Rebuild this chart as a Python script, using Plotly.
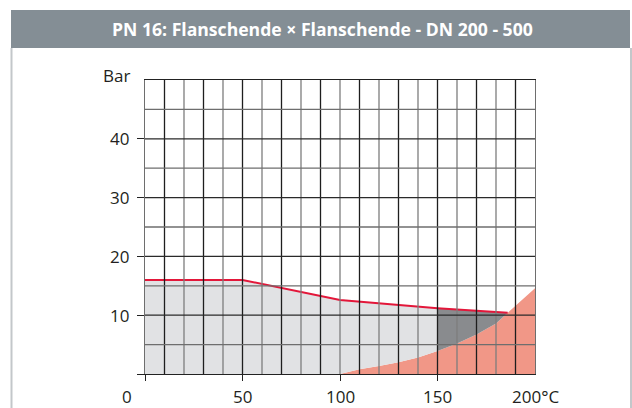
import plotly.graph_objects as go

# ---- data ----
TITLE = "PN 16: Flanschende × Flanschende - DN 200 - 500"
LIMIT_T = [0, 50, 100, 150, 186]           # °C
LIMIT_P = [16, 16, 12.6, 11.2, 10.4]       # bar
CURVE_T = [100, 110, 120, 130, 140, 150, 160, 170, 180, 186, 190, 200]
CURVE_P = [0, 0.8, 1.35, 2.0, 2.8, 3.9, 5.2, 6.7, 8.6, 10.4, 11.5, 14.6]
X_TICKS = [0, 50, 100, 150, 200]
X_TICK_TEXT = ["0", "50", "100", "150", "200°C"]
Y_TICKS = [10, 20, 30, 40]
Y_UNIT = "Bar"

# ---- layout constants (pixels) ----
W, H = 632, 408
L, R, T, B = 145, 535, 80, 374
FONT = "Open Sans"
TXT = "#231f20"


def px(x):
    return (x - L) / (R - L)


def py(y):
    return (B - y) / (B - T)


fig = go.Figure()

# salmon region under curve
fig.add_trace(go.Scatter(x=CURVE_T, y=CURVE_P, mode="lines", line=dict(width=0),
                         fill="tozeroy", fillcolor="#f19787", hoverinfo="skip"))

# light grey region: from 0 to 150 between curve (or 0) and limit line
split = 150
lim_left_x = [t for t in LIMIT_T if t <= split]
lim_left_y = [p for t, p in zip(LIMIT_T, LIMIT_P) if t <= split]
cur_left_x = [t for t in CURVE_T if t <= split][::-1]
cur_left_y = [p for t, p in zip(CURVE_T, CURVE_P) if t <= split][::-1]
fig.add_trace(go.Scatter(x=[0] + lim_left_x + cur_left_x + [0],
                         y=[0] + lim_left_y + cur_left_y + [0],
                         mode="lines", line=dict(width=0), fill="toself",
                         fillcolor="#e1e2e4", hoverinfo="skip"))

# dark grey region: 150..end between curve and limit line
end = LIMIT_T[-1]
lim_r_x = [t for t in LIMIT_T if t >= split]
lim_r_y = [p for t, p in zip(LIMIT_T, LIMIT_P) if t >= split]
cur_r_x = [t for t in CURVE_T if split <= t <= end][::-1]
cur_r_y = [p for t, p in zip(CURVE_T, CURVE_P) if split <= t <= end][::-1]
fig.add_trace(go.Scatter(x=lim_r_x + cur_r_x, y=lim_r_y + cur_r_y,
                         mode="lines", line=dict(width=0), fill="toself",
                         fillcolor="#898b8e", hoverinfo="skip"))

shapes = []
# grid above fills
for i, v in enumerate(range(10, 200, 10)):
    shapes.append(dict(type="line", xref="x", yref="y", x0=v, x1=v, y0=0, y1=50,
                       line=dict(color="#1e1e1e" if i % 2 == 0 else "#7d7d7d", width=1.3),
                       layer="above"))
for v in range(5, 50, 5):
    shapes.append(dict(type="line", xref="x", yref="y", x0=0, x1=200, y0=v, y1=v,
                       line=dict(color="#2a2a2a" if v % 10 == 0 else "#6e6e6e", width=1.3),
                       layer="above"))

# title bar and frame
shapes.append(dict(type="rect", xref="paper", yref="paper", x0=px(11), x1=px(630),
                   y0=py(48), y1=py(10), fillcolor="#848e95", line=dict(width=0), layer="below"))
for xx in (11.5, 631):
    shapes.append(dict(type="line", xref="paper", yref="paper", x0=px(xx), x1=px(xx),
                       y0=py(48), y1=py(410), line=dict(color="#c3c7ca", width=2)))

fig.add_trace(go.Scatter(x=LIMIT_T, y=LIMIT_P, mode="lines",
                         line=dict(color="#e3173a", width=2), hoverinfo="skip"))

annotations = [
    dict(text="<b>" + TITLE + "</b>", xref="paper", yref="paper", x=px(322), y=py(29),
         xanchor="center", yanchor="middle", showarrow=False,
         font=dict(family=FONT, size=17.6, color="white")),
    dict(text=Y_UNIT, xref="paper", yref="paper", x=px(132), y=py(75),
         xanchor="right", yanchor="middle", showarrow=False,
         font=dict(family=FONT, size=17, color=TXT)),
]
for v, t in zip(X_TICKS, X_TICK_TEXT):
    annotations.append(dict(text=t, xref="paper" if v == 0 else "x", yref="paper",
                            x=px(127) if v == 0 else v, y=py(396),
                            xanchor="center", yanchor="middle", showarrow=False,
                            font=dict(family=FONT, size=17, color=TXT)))
for v in Y_TICKS:
    annotations.append(dict(text=str(v), xref="paper", yref="y", x=px(131), y=v,
                            xanchor="right", yanchor="middle", showarrow=False,
                            font=dict(family=FONT, size=17, color=TXT)))

fig.update_layout(
    width=W, height=H,
    margin=dict(l=L, r=W - R, t=T, b=H - B, pad=0),
    paper_bgcolor="white", plot_bgcolor="white",
    showlegend=False,
    shapes=shapes, annotations=annotations,
    xaxis=dict(range=[0, 200], showgrid=False, zeroline=False,
               tickvals=[0, 50, 100, 150], ticks="outside", ticklen=6, tickcolor="#222",
               showticklabels=False, showline=True, linecolor="#222", linewidth=1.3,
               mirror=True, layer="above traces", fixedrange=True),
    yaxis=dict(range=[0, 50], showgrid=False, zeroline=False,
               tickvals=[0] + Y_TICKS, ticks="outside", ticklen=7, tickcolor="#222",
               showticklabels=False, showline=True, linecolor="#6e6e6e", linewidth=1.3,
               mirror=True, layer="above traces", fixedrange=True),
)

fig.write_html("out.html", config={"displayModeBar": False},
               post_script="document.body.style.margin='0';document.body.style.overflow='hidden';")
